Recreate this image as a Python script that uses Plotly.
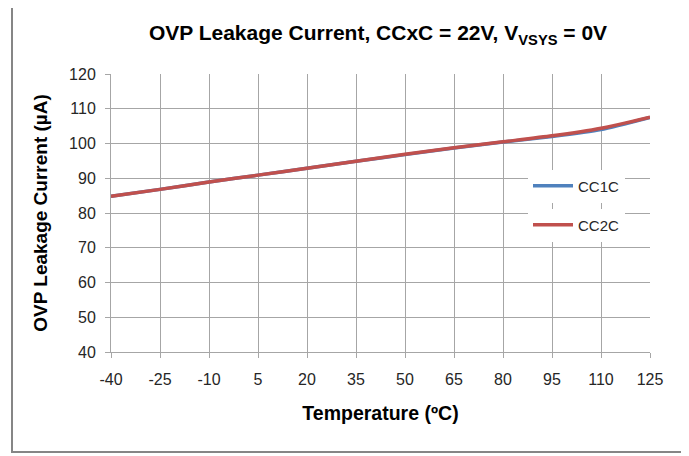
import plotly.graph_objects as go

# temperature (degC) and leakage current (uA)
temps = [-40, -25, -10, 5, 20, 35, 50, 65, 80, 95, 110, 125]
temp_labels = ["-40", "-25", "-10", "5", "20", "35", "50", "65", "80", "95", "110", "125"]
cc1c = [84.8, 86.8, 88.9, 90.9, 92.9, 94.9, 96.8, 98.7, 100.4, 102.0, 104.0, 107.5]
cc2c = [84.8, 86.8, 88.9, 90.9, 92.9, 94.9, 96.9, 98.8, 100.5, 102.2, 104.4, 107.6]

# page body has an 8px margin, so lay everything out in window pixels minus 8
OFF = 8
W, H = 689 - OFF, 456 - OFF
ml, mr, mt, mb = 111 - OFF, 39, 74 - OFF, 104
pw, ph = W - ml - mr, H - mt - mb

def px_x(x):
    return (x - OFF - ml) / pw

def px_y(y):
    return (H - mb - (y - OFF)) / ph

grid = "#A6A6A6"
tick_font = dict(family="Liberation Sans", size=16, color="#262626")
legend_font = dict(family="Liberation Sans", size=15, color="#262626")

fig = go.Figure()
fig.add_trace(go.Scatter(x=temps, y=cc1c, mode="lines", name="CC1C",
                         line=dict(color="#4F81BD", width=3.5, shape="spline", smoothing=0.6),
                         legend="legend"))
fig.add_trace(go.Scatter(x=temps, y=cc2c, mode="lines", name="CC2C",
                         line=dict(color="#C0504D", width=3.5, shape="spline", smoothing=0.6),
                         legend="legend2"))

fig.update_layout(
    width=W, height=H,
    showlegend=True,
    margin=dict(l=ml, r=mr, t=mt, b=mb),
    paper_bgcolor="white", plot_bgcolor="white",
    title=dict(text="OVP Leakage Current, CCxC = 22V, V<sub>VSYS</sub> = 0V",
               x=px_x(378), xref="paper", xanchor="center",
               y=1 - (33 - OFF) / H, yanchor="middle",
               font=dict(family="Liberation Sans", size=21, color="black", weight="bold")),
    legend=dict(x=px_x(528), y=px_y(186), xanchor="left", yanchor="middle",
                bgcolor="white", font=legend_font, itemwidth=40, visible=True),
    legend2=dict(x=px_x(528), y=px_y(225), xanchor="left", yanchor="middle",
                 bgcolor="white", font=legend_font, itemwidth=40, visible=True),
    xaxis=dict(range=[-40, 125], tickmode="array", tickvals=temps, ticktext=temp_labels,
               showgrid=True, gridcolor=grid, gridwidth=1,
               showline=True, linecolor=grid, linewidth=1,
               ticks="outside", ticklen=5, tickcolor=grid, ticklabelstandoff=8,
               tickfont=tick_font, zeroline=False,
               title=dict(text="Temperature (ºC)", standoff=19,
                          font=dict(family="Liberation Sans", size=19.5, color="black", weight="bold"))),
    yaxis=dict(range=[40, 120], dtick=10,
               showgrid=True, gridcolor=grid, gridwidth=1,
               showline=True, linecolor=grid, linewidth=1,
               ticks="outside", ticklen=5, tickcolor=grid, ticklabelstandoff=6,
               tickfont=tick_font, zeroline=False,
               title=dict(text="OVP Leakage Current (µA)", standoff=16,
                          font=dict(family="Liberation Sans", size=19, color="black", weight="bold"))),
)

# outer chart border
fig.add_shape(type="rect", xref="paper", yref="paper",
              x0=px_x(12), x1=px_x(683), y0=px_y(452), y1=px_y(3),
              line=dict(color="#868686", width=2), layer="below")

fig.write_html("out.html")
